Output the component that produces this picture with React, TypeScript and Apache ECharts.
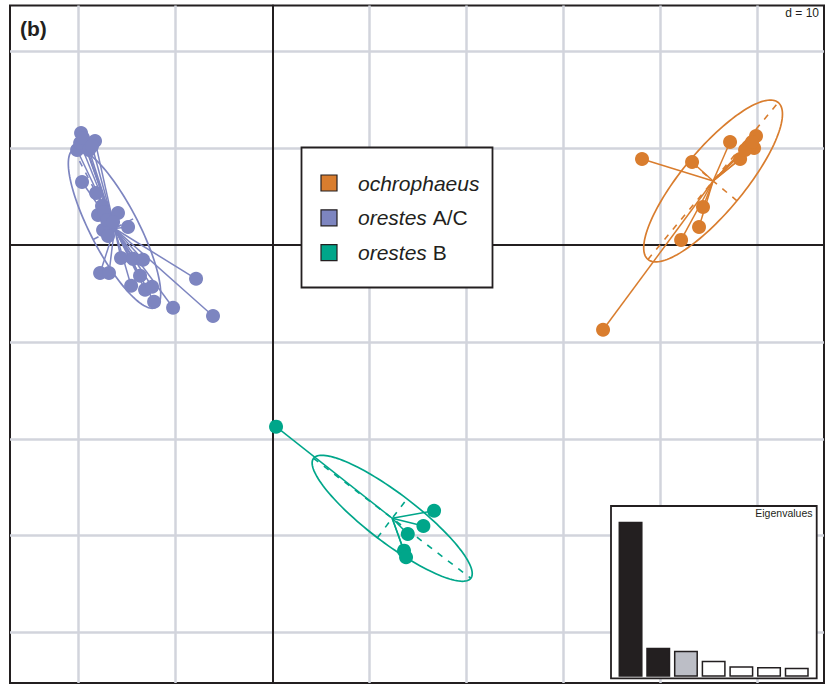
import React, { useEffect, useRef } from "react";
import * as echarts from "echarts";

// Axis ranges of the ordination plane (grid square d = 10)
const xRange = [-27.05, 56.91];
const yRange = [-45.19, 24.69];
const gridTicksX = [-20, -10, 10, 20, 30, 40, 50];
const gridTicksY = [-40, -30, -20, -10, 10, 20];

// Groups
const groupSpecies = ["ochrophaeus", "orestes", "orestes"];
const groupSuffix = ["", "A/C", "B"];
const groupColors = ["#d97d2e", "#7d85c0", "#00a68a"];

// Individual scores (axis 1, axis 2)
const ochrophaeusPts = [
  [38.14, 8.86], [43.3, 8.55], [47.22, 10.61], [49.9, 11.23], [49.08, 10.1],
  [49.7, 9.99], [48.26, 8.86], [44.43, 3.91], [44.02, 1.85], [42.17, 0.51],
  [34.12, -8.76], [49.29, 10.3], [48.77, 9.79], [49.49, 10.61],
];
const orestesACPts = [
  [-19.72, 11.54], [-18.28, 10.72], [-20.13, 9.79], [-19.31, 10.2], [-19.82, 10.51],
  [-18.9, 9.79], [-19.52, 11.03], [-18.59, 10.2], [-19.62, 6.49], [-18.17, 5.35],
  [-17.56, 4.01], [-17.97, 3.08], [-17.35, 3.39], [-15.91, 3.29], [-14.87, 1.85],
  [-17.45, 1.54], [-16.73, 1.95], [-16.94, 0.92], [-17.04, 2.57], [-16.42, 2.36],
  [-15.6, -1.35], [-14.36, -1.44], [-13.33, -1.54], [-17.76, -2.9], [-16.84, -2.9],
  [-13.64, -3.19], [-14.56, -4.22], [-13.12, -4.63], [-12.4, -4.32], [-12.19, -5.87],
  [-10.23, -6.49], [-7.86, -3.5], [-6.11, -7.33],
];
const orestesBPts = [
  [0.39, -18.75], [16.69, -27.42], [15.59, -28.99], [13.98, -29.82], [13.59, -31.54],
  [13.8, -32.22],
];
const groupPoints = [ochrophaeusPts, orestesACPts, orestesBPts];

// Group centres, inertia ellipse semi-axes and orientation (degrees)
const groupCentres = [[45.47, 6.59], [-16.27, 1.69], [12.37, -28.2]];
const ellipseAxes = [[10.52, 3.2], [9.18, 2.48], [10.2, 2.52]];
const ellipseAngles = [50.3, -62.6, -37.3];

// Eigenvalue screeplot
const eigenvalues = [15.5, 2.9, 2.6, 1.6, 1.04, 0.97, 0.9];
const eigenLabels = ["1", "2", "3", "4", "5", "6", "7"];
const eigenFills = ["#231f20", "#231f20", "#bcbec6", "#ffffff", "#ffffff", "#ffffff", "#ffffff"];

const INK = "#231f20";
const FONT = "'Liberation Sans', Arial, Helvetica, sans-serif";

export default function App() {
  const ref = useRef<HTMLDivElement>(null);

  useEffect(() => {
    if (!ref.current) return;
    const chart = echarts.init(ref.current, undefined, { renderer: "svg" });

    const gridLineData: any[] = [];
    gridTicksX.forEach((x) => gridLineData.push({ coords: [[x, yRange[0]], [x, yRange[1]]] }));
    gridTicksY.forEach((y) => gridLineData.push({ coords: [[xRange[0], y], [xRange[1], y]] }));

    const starSeries = groupPoints.map((pts, g) => ({
      type: "lines",
      coordinateSystem: "cartesian2d",
      xAxisIndex: 0,
      yAxisIndex: 0,
      silent: true,
      z: 4,
      lineStyle: { color: groupColors[g], width: 1.5, opacity: 1, curveness: 0 },
      data: pts.map((p) => ({ coords: [groupCentres[g], p] })),
    }));

    const pointSeries = groupPoints.map((pts, g) => ({
      type: "scatter",
      xAxisIndex: 0,
      yAxisIndex: 0,
      symbol: "circle",
      symbolSize: 14,
      z: 5,
      itemStyle: { color: groupColors[g], opacity: 1 },
      data: pts,
    }));

    const ellipseData = groupCentres.map((c, g) => [
      c[0], c[1], ellipseAxes[g][0], ellipseAxes[g][1], ellipseAngles[g], g,
    ]);

    const ellipseSeries = {
      type: "custom",
      xAxisIndex: 0,
      yAxisIndex: 0,
      silent: true,
      z: 4,
      encode: { x: 0, y: 1 },
      data: ellipseData,
      renderItem: (params: any, api: any) => {
        const cx = api.value(0);
        const cy = api.value(1);
        const a = api.value(2);
        const b = api.value(3);
        const t = (api.value(4) * Math.PI) / 180;
        const color = groupColors[api.value(5)];
        const u = [Math.cos(t), Math.sin(t)];
        const v = [-Math.sin(t), Math.cos(t)];
        const at = (s: number, r: number) =>
          api.coord([cx + s * u[0] + r * v[0], cy + s * u[1] + r * v[1]]);
        const outline: number[][] = [];
        const n = 140;
        for (let k = 0; k < n; k++) {
          const q = (2 * Math.PI * k) / n;
          outline.push(at(a * Math.cos(q), b * Math.sin(q)));
        }
        const m1 = at(-a, 0), m2 = at(a, 0);
        const n1 = at(0, -b), n2 = at(0, b);
        return {
          type: "group",
          children: [
            {
              type: "polygon",
              shape: { points: outline },
              style: { fill: "none", stroke: color, lineWidth: 1.7 },
            },
            {
              type: "line",
              shape: { x1: m1[0], y1: m1[1], x2: m2[0], y2: m2[1] },
              style: { stroke: color, lineWidth: 1.6, lineDash: [6, 7] },
            },
            {
              type: "line",
              shape: { x1: n1[0], y1: n1[1], x2: n2[0], y2: n2[1] },
              style: { stroke: color, lineWidth: 1.6, lineDash: [6, 7] },
            },
          ],
        };
      },
    };

    const legendRows = groupSpecies.map((sp, g) => {
      const cy = 183 + g * 34.8;
      return [
        {
          type: "rect",
          z: 21,
          shape: { x: 321, y: cy - 8, width: 16, height: 16 },
          style: { fill: groupColors[g], stroke: INK, lineWidth: 1.2 },
        },
        {
          type: "text",
          z: 21,
          x: 358,
          y: cy,
          style: {
            text: groupSuffix[g] ? `{i|${sp}} {n|${groupSuffix[g]}}` : `{i|${sp}}`,
            textVerticalAlign: "middle",
            textAlign: "left",
            fill: INK,
            fontSize: 21,
            fontFamily: FONT,
            rich: {
              i: { fontStyle: "italic", fontSize: 21, fontFamily: FONT, fill: INK },
              n: { fontSize: 21, fontFamily: FONT, fill: INK },
            },
          },
        },
      ];
    }).flat();

    chart.setOption({
      animation: false,
      backgroundColor: "#ffffff",
      grid: [
        {
          left: 10, top: 5.5, width: 814, height: 677.5,
          show: true, borderColor: INK, borderWidth: 2, backgroundColor: "transparent",
        },
        { left: 616.7, top: 506, width: 193.9, height: 170.7, show: false },
      ],
      xAxis: [
        {
          type: "value", gridIndex: 0, min: xRange[0], max: xRange[1], z: 3,
          axisLine: { show: true, onZero: true, lineStyle: { color: INK, width: 2 } },
          axisTick: { show: false }, axisLabel: { show: false }, splitLine: { show: false },
        },
        {
          type: "category", gridIndex: 1, data: eigenLabels, boundaryGap: true,
          axisLine: { show: false }, axisTick: { show: false }, axisLabel: { show: false },
          splitLine: { show: false },
        },
      ],
      yAxis: [
        {
          type: "value", gridIndex: 0, min: yRange[0], max: yRange[1], z: 3,
          axisLine: { show: true, onZero: true, lineStyle: { color: INK, width: 2 } },
          axisTick: { show: false }, axisLabel: { show: false }, splitLine: { show: false },
        },
        {
          type: "value", gridIndex: 1, min: 0, max: 17.07,
          axisLine: { show: false }, axisTick: { show: false }, axisLabel: { show: false },
          splitLine: { show: false },
        },
      ],
      series: [
        {
          type: "lines",
          coordinateSystem: "cartesian2d",
          xAxisIndex: 0,
          yAxisIndex: 0,
          silent: true,
          z: 1,
          lineStyle: { color: "#d2d4dc", width: 2.5, opacity: 1 },
          data: gridLineData,
        },
        ...starSeries,
        ellipseSeries,
        ...pointSeries,
        {
          type: "bar",
          xAxisIndex: 1,
          yAxisIndex: 1,
          barWidth: 24,
          z: 25,
          silent: true,
          data: eigenvalues.map((val, i) => ({
            value: val,
            itemStyle: { color: eigenFills[i], borderColor: INK, borderWidth: 1.5 },
          })),
        },
      ],
      graphic: [
        {
          type: "text", z: 20, x: 20, y: 28,
          style: {
            text: "(b)", fontSize: 21, fontWeight: "bold", fontFamily: FONT,
            fill: INK, textVerticalAlign: "middle", textAlign: "left",
          },
        },
        {
          type: "text", z: 20, x: 819, y: 13,
          style: {
            text: "d = 10", fontSize: 12, fontFamily: FONT,
            fill: INK, textVerticalAlign: "middle", textAlign: "right",
          },
        },
        {
          type: "rect", z: 20,
          shape: { x: 301.5, y: 147.5, width: 191, height: 140 },
          style: { fill: "#ffffff", stroke: INK, lineWidth: 1.8 },
        },
        ...legendRows,
        {
          type: "rect", z: 20,
          shape: { x: 611, y: 506, width: 205.7, height: 172.3 },
          style: { fill: "#ffffff", stroke: INK, lineWidth: 1.8 },
        },
        {
          type: "text", z: 21, x: 812.5, y: 513,
          style: {
            text: "Eigenvalues", fontSize: 10.5, fontFamily: FONT,
            fill: INK, textVerticalAlign: "middle", textAlign: "right",
          },
        },
      ],
    });

    return () => chart.dispose();
  }, []);

  return (
    <div
      ref={ref}
      style={{ position: "absolute", left: 0, top: 0, width: 830, height: 684 }}
    />
  );
}
